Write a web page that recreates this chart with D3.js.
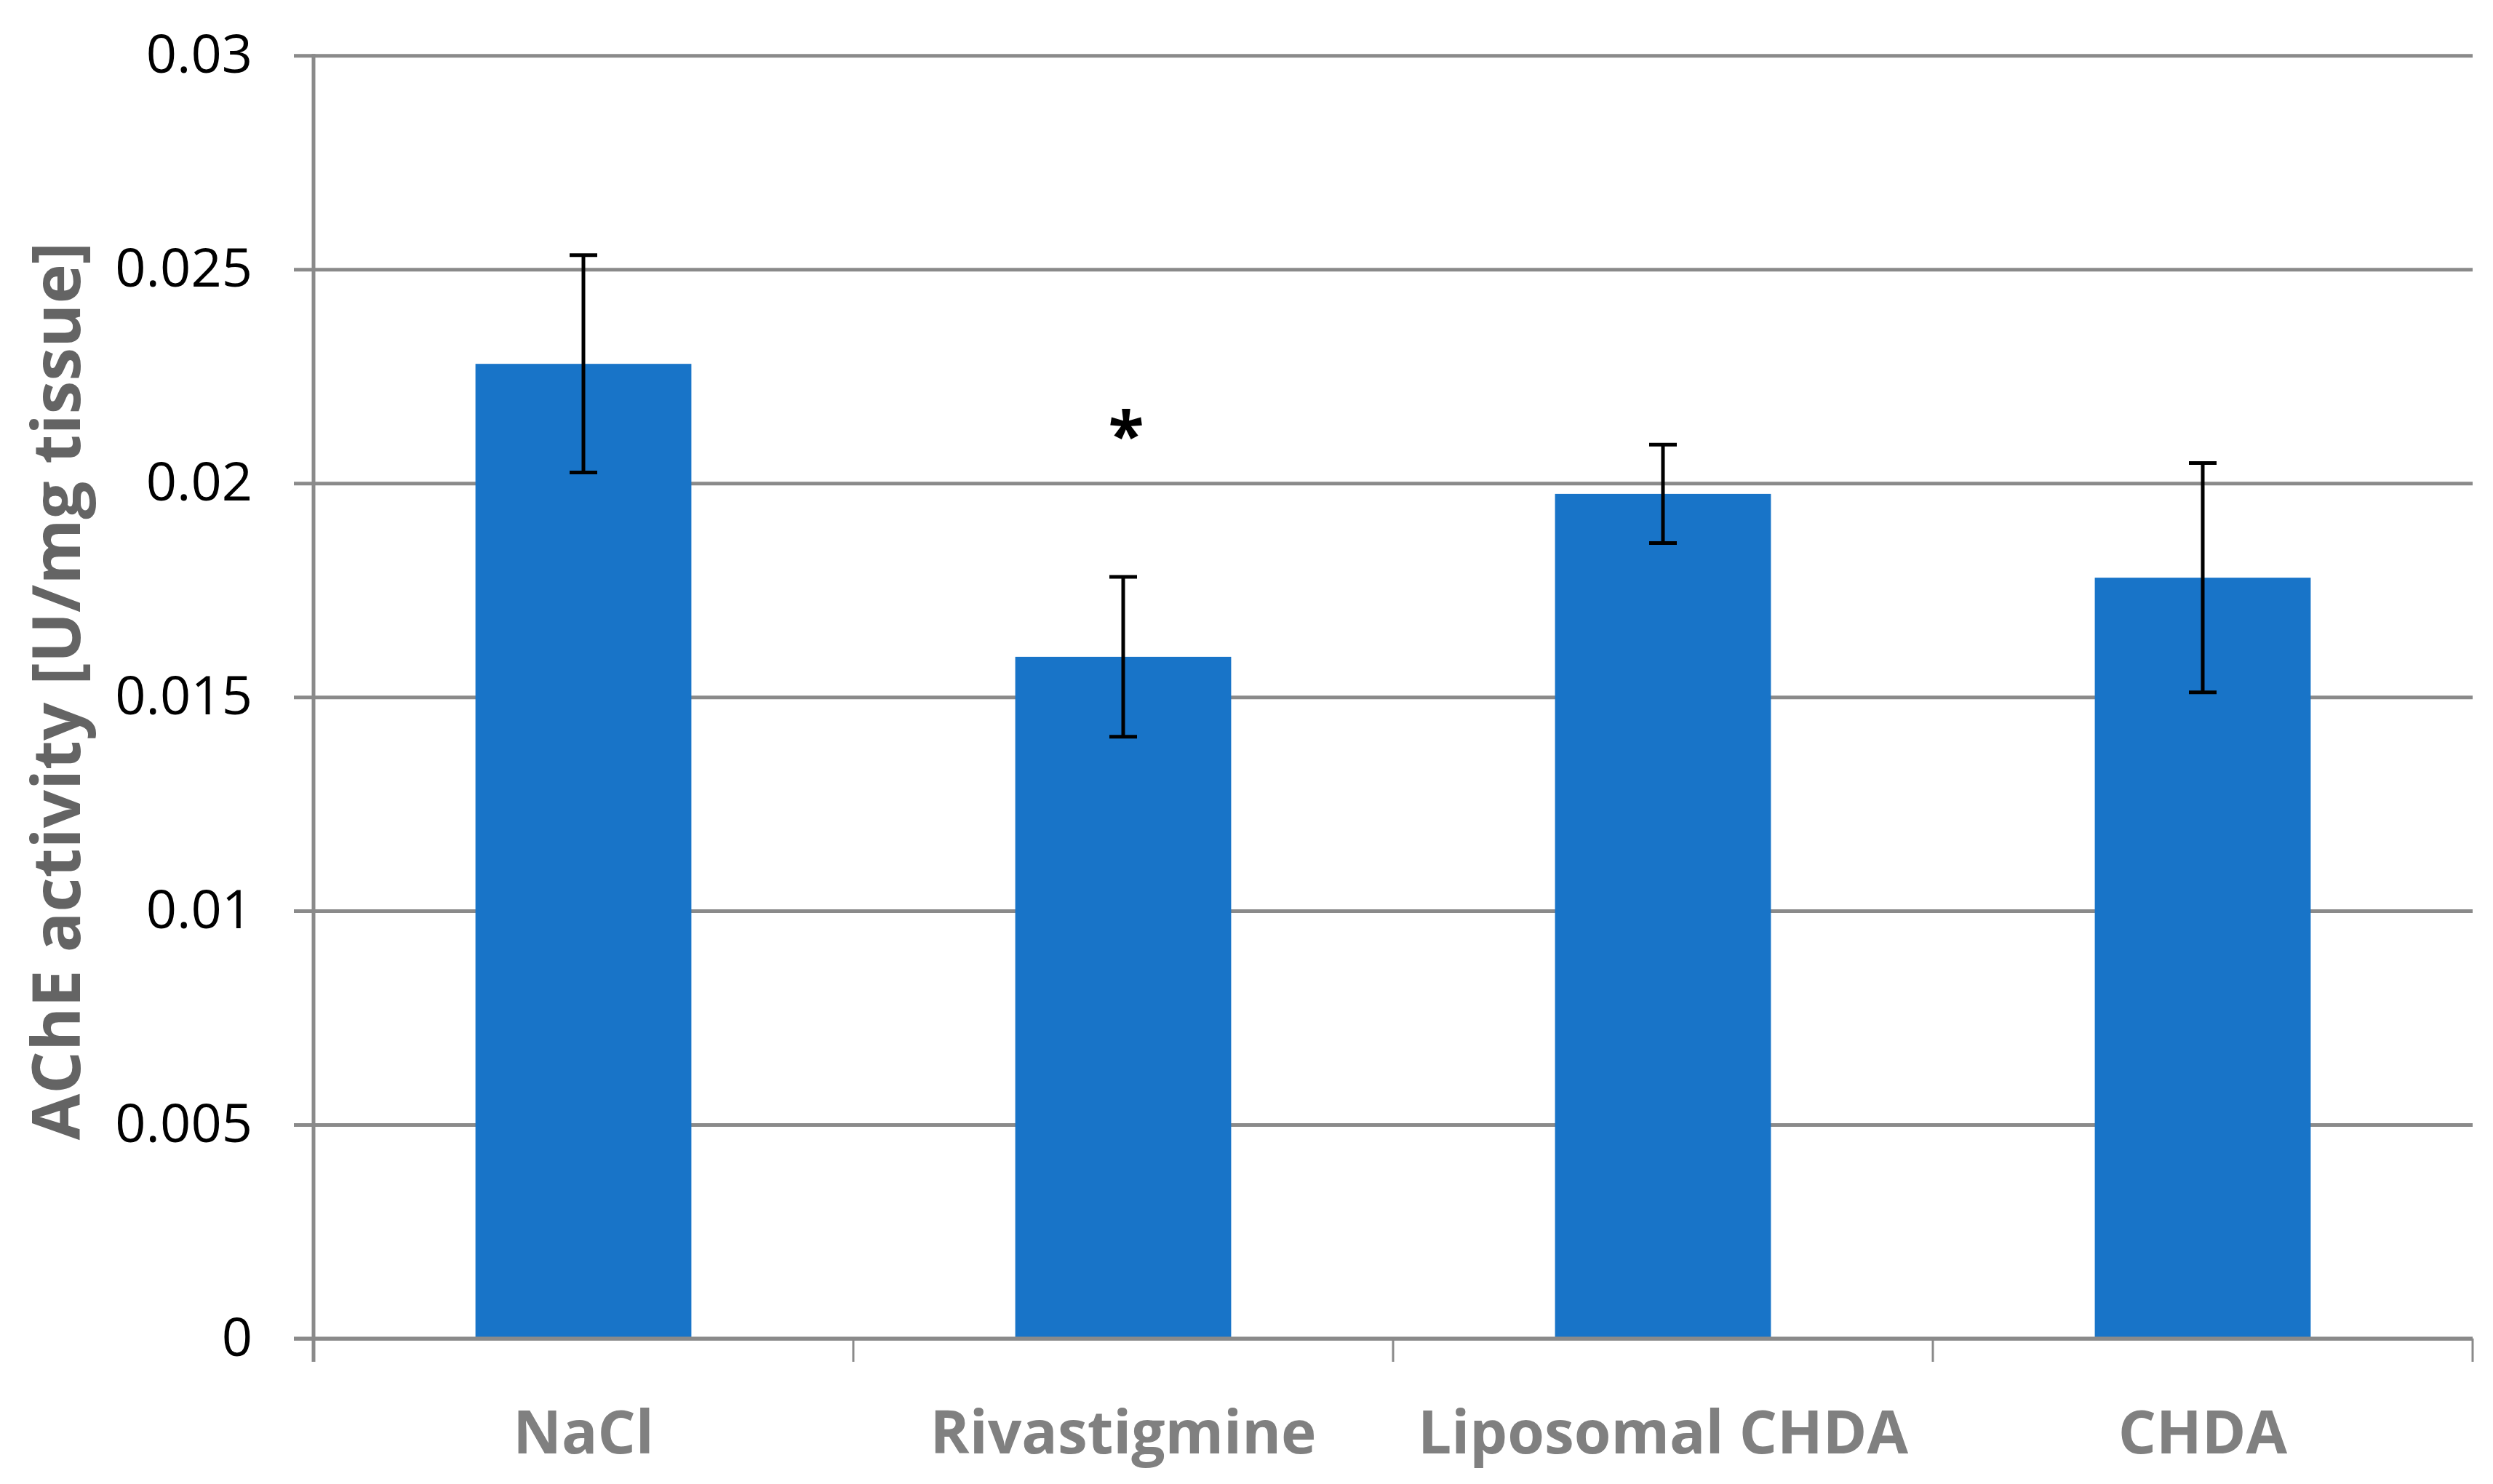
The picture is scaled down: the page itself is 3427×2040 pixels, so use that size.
<!DOCTYPE html>
<html lang="en">
<head>
    <meta charset="UTF-8">
    <title>AChE activity</title>
    <style>
        body { margin: 0; background: #fff; }
        text { font-family: "Segoe UI", "Open Sans", sans-serif; }
        .grid line { stroke: #8a8a8a; stroke-width: 5px; }
        .ylab text { font-size: 74px; fill: #000; }
        .xlab text { font-size: 82px; font-weight: bold; fill: #808080; }
        .err { stroke: #000; stroke-width: 5px; }
    </style>
</head>
<body>
<script src="https://d3js.org/d3.v7.min.js"></script>
<script>
    const categories = ["NaCl", "Rivastigmine", "Liposomal CHDA", "CHDA"];
    const means = [0.02279, 0.01594, 0.01975, 0.01779];
    const errors = [0.00254, 0.00187, 0.00115, 0.00268];
    const marks = ["", "*", "", ""];
    const yTicks = [0, 0.005, 0.01, 0.015, 0.02, 0.025, 0.03];
    const yTitle = "AChE activity [U/mg tissue]";

    const width = 3427, height = 2040;
    const plotLeft = 431, plotRight = 3399, plotTop = 76.3, plotBottom = 1840;
    const gray = "#8a8a8a";

    const svg = d3.select("body").append("svg")
        .attr("width", width)
        .attr("height", height);

    const x = d3.scaleBand()
        .domain(categories)
        .range([plotLeft, plotRight])
        .paddingInner(0.6)
        .paddingOuter(0.3);

    const y = d3.scaleLinear()
        .domain([0, 0.03])
        .range([plotBottom, plotTop]);

    // gridlines + tick labels
    const yAxis = svg.append("g")
        .attr("class", "grid ylab")
        .attr("transform", `translate(${plotLeft - 27},0)`)
        .call(d3.axisLeft(y)
            .tickValues(yTicks)
            .tickSizeInner(-(plotRight - plotLeft + 27))
            .tickSizeOuter(0)
            .tickPadding(57)
            .tickFormat(d => String(+d.toFixed(3))));
    yAxis.select(".domain").remove();
    yAxis.selectAll(".tick line").attr("stroke", gray);
    yAxis.selectAll(".tick text").attr("dy", "0.32em");

    // vertical axis line
    svg.append("line")
        .attr("x1", plotLeft).attr("x2", plotLeft)
        .attr("y1", plotTop - 2).attr("y2", plotBottom + 32)
        .attr("stroke", gray).attr("stroke-width", 5);

    // category boundary ticks
    const bounds = d3.range(categories.length + 1)
        .map(i => x(categories[0]) - x.step() * x.paddingInner() / 2 + i * x.step());
    svg.selectAll("line.cat-tick")
        .data(bounds.slice(1))
        .join("line")
        .attr("class", "cat-tick")
        .attr("x1", d => d).attr("x2", d => d)
        .attr("y1", plotBottom).attr("y2", plotBottom + 32)
        .attr("stroke", gray).attr("stroke-width", 3);

    // bars
    svg.selectAll("rect.bar")
        .data(categories)
        .join("rect")
        .attr("class", "bar")
        .attr("x", d => x(d))
        .attr("width", x.bandwidth())
        .attr("y", (d, i) => y(means[i]))
        .attr("height", (d, i) => y(0) - y(means[i]))
        .attr("fill", "#1874c8");

    // error bars
    const cx = d => x(d) + x.bandwidth() / 2;
    const err = svg.append("g").attr("class", "err");
    err.selectAll("line.v")
        .data(categories)
        .join("line")
        .attr("class", "v")
        .attr("x1", cx).attr("x2", cx)
        .attr("y1", (d, i) => y(means[i] + errors[i]))
        .attr("y2", (d, i) => y(means[i] - errors[i]));
    [1, -1].forEach(s => {
        err.selectAll(null)
            .data(categories)
            .join("line")
            .attr("x1", d => cx(d) - 19).attr("x2", d => cx(d) + 19)
            .attr("y1", (d, i) => y(means[i] + s * errors[i]))
            .attr("y2", (d, i) => y(means[i] + s * errors[i]));
    });

    // significance marks
    svg.selectAll("text.sig")
        .data(categories)
        .join("text")
        .attr("class", "sig")
        .attr("x", d => cx(d) + 4)
        .attr("y", (d, i) => y(means[i] + errors[i]) - 163)
        .attr("text-anchor", "middle")
        .attr("font-size", 90)
        .attr("font-weight", "bold")
        .text((d, i) => marks[i]);

    // x labels
    const xAxis = svg.append("g")
        .attr("class", "xlab")
        .attr("transform", `translate(0,${plotBottom})`)
        .call(d3.axisBottom(x).tickSize(0).tickPadding(100));
    xAxis.select(".domain").remove();

    // baseline drawn on top of bars
    svg.append("line")
        .attr("x1", plotLeft - 27).attr("x2", plotRight)
        .attr("y1", plotBottom).attr("y2", plotBottom)
        .attr("stroke", gray).attr("stroke-width", 5);

    // y title
    svg.append("text")
        .attr("transform", `translate(110,950) rotate(-90)`)
        .attr("text-anchor", "middle")
        .attr("font-size", 92)
        .attr("font-weight", "bold")
        .attr("fill", "#646464")
        .text(yTitle);
</script>
</body>
</html>
